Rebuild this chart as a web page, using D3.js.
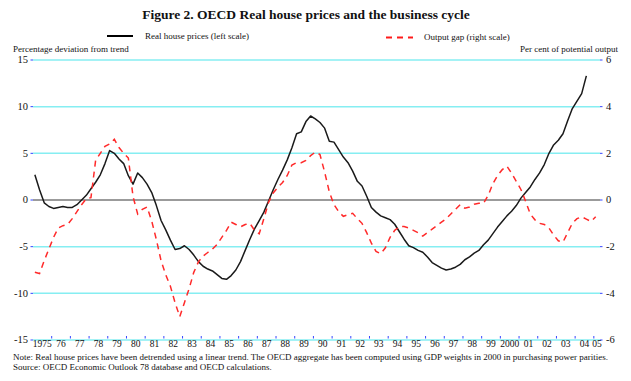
<!DOCTYPE html>
<html>
<head>
<meta charset="utf-8">
<script src="https://cdn.jsdelivr.net/npm/d3@7"></script>
<style>
  html, body { margin: 0; padding: 0; background: #fff; }
  svg { display: block; font-family: "Liberation Serif", "Times New Roman", serif; }
</style>
</head>
<body>
<svg id="chart" width="631" height="381"></svg>
<script>
// ---- data ----
const startYear = 1975.1;   // first quarterly observation
const step = 0.25;          // quarterly
const housePrices = [
  2.7, 1.1, -0.3, -0.7, -0.9, -0.8, -0.7, -0.8, -0.8, -0.5, 0.0, 0.5,
  1.2, 1.9, 2.7, 3.9, 5.3, 5.0, 4.4, 3.9, 2.6, 1.7, 2.9, 2.4,
  1.7, 0.8, -0.6, -2.2, -3.2, -4.3, -5.3, -5.2, -4.9, -5.3, -5.9, -6.6,
  -7.1, -7.4, -7.6, -8.0, -8.4, -8.5, -8.1, -7.5, -6.6, -5.4, -4.2, -3.1,
  -2.2, -1.3, -0.1, 1.1, 2.2, 3.2, 4.3, 5.6, 7.1, 7.3, 8.4, 9.0,
  8.7, 8.3, 7.7, 6.3, 6.2, 5.4, 4.6, 4.0, 3.1, 2.0, 1.5, 0.4,
  -0.8, -1.3, -1.7, -1.9, -2.1, -2.6, -3.4, -4.2, -4.9, -5.1, -5.4, -5.6,
  -6.1, -6.7, -7.0, -7.3, -7.5, -7.4, -7.2, -6.9, -6.4, -6.1, -5.7, -5.4,
  -4.8, -4.3, -3.6, -2.9, -2.3, -1.7, -1.2, -0.6, 0.2, 0.8, 1.4, 2.2,
  2.9, 3.8, 5.0, 5.9, 6.4, 7.1, 8.5, 9.8, 10.6, 11.4, 13.3
];
const outputGap = [
  -3.1, -3.15, -2.6, -2.1, -1.6, -1.2, -1.1, -1.05, -0.8, -0.5, -0.2, 0.05,
  0.1, 1.7, 2.0, 2.3, 2.4, 2.6, 2.25, 2.0, 1.8, 0.15, -0.6, -0.4,
  -0.3, -0.9, -1.7, -2.6, -3.2, -3.7, -4.4, -5.0, -4.4, -3.8, -3.1, -2.65,
  -2.4, -2.25, -2.1, -1.9, -1.6, -1.3, -0.95, -1.05, -1.15, -1.05, -1.0, -1.3,
  -1.45, -0.8, -0.1, 0.3, 0.55, 0.75, 1.05, 1.5, 1.6, 1.6, 1.7, 1.9,
  2.05, 1.95, 1.2, 0.35, -0.2, -0.5, -0.7, -0.63, -0.57, -0.8, -1.0, -1.4,
  -1.85, -2.2, -2.3, -2.05, -1.6, -1.3, -1.14, -1.14, -1.2, -1.3, -1.4, -1.55,
  -1.4, -1.25, -1.1, -0.95, -0.8, -0.6, -0.4, -0.2, -0.35, -0.3, -0.18, -0.14,
  -0.14, 0.2, 0.7, 1.05, 1.3, 1.45, 1.15, 0.8, 0.45, -0.05, -0.6, -0.85,
  -1.0, -1.05, -1.2, -1.5, -1.75, -1.8, -1.4, -1.0, -0.8, -0.72, -0.82, -0.92,
  -0.72
];
const years = d3.range(1975, 2006);
const yearLabels = years.map(y => (y === 1975 || y === 2000) ? String(y) : String(y).slice(2));
const leftTicks = [-15, -10, -5, 0, 5, 10, 15];
const rightTicks = [-6, -4, -2, 0, 2, 4, 6];
const xEnd = 2005.33;

const title = "Figure 2. OECD Real house prices and the business cycle";
const seriesNames = ["Real house prices (left scale)", "Output gap (right scale)"];
const leftAxisTitle = "Percentage deviation from trend";
const rightAxisTitle = "Per cent of potential output";
const notes = [
  "Note: Real house prices have been detrended using a linear trend. The OECD aggregate has been computed using GDP weights in 2000 in purchasing power parities.",
  "Source: OECD Economic Outlook 78 database and OECD calculations."
];

// ---- layout ----
const svg = d3.select("#chart");
const L = 33, R = 600, T = 60, B = 340;
const x = d3.scaleLinear().domain([1975, xEnd]).range([L, R]);
const yL = d3.scaleLinear().domain([-15, 15]).range([B, T]);
const yR = d3.scaleLinear().domain([-6, 6]).range([B, T]);

// title
svg.append("text").attr("x", 306).attr("y", 19).attr("text-anchor", "middle")
  .attr("font-size", 13.5).attr("font-weight", "bold").attr("fill", "#111").text(title);

// legend
svg.append("line").attr("x1", 107).attr("x2", 133).attr("y1", 36).attr("y2", 36)
  .attr("stroke", "#000").attr("stroke-width", 2);
svg.append("text").attr("x", 145).attr("y", 39).attr("font-size", 9).attr("fill", "#111").text(seriesNames[0]);
svg.append("line").attr("x1", 386).attr("x2", 413).attr("y1", 37.5).attr("y2", 37.5)
  .attr("stroke", "#ff1a1a").attr("stroke-width", 2).attr("stroke-dasharray", "6,5");
svg.append("text").attr("x", 424).attr("y", 40).attr("font-size", 9).attr("fill", "#111").text(seriesNames[1]);

// axis titles
svg.append("text").attr("x", 13).attr("y", 52).attr("font-size", 9).attr("fill", "#111").text(leftAxisTitle);
svg.append("text").attr("x", 618).attr("y", 52).attr("text-anchor", "end").attr("font-size", 9).attr("fill", "#111").text(rightAxisTitle);

// gridlines
svg.append("g").selectAll("line").data(leftTicks).join("line")
  .attr("x1", L).attr("x2", R)
  .attr("y1", d => yL(d)).attr("y2", d => yL(d))
  .attr("stroke", d => d === 0 ? "#7a7a7a" : "#86eef2")
  .attr("stroke-width", 1.5);

// left axis ticks and labels
const gl = svg.append("g");
gl.selectAll("line").data(leftTicks).join("line")
  .attr("x1", L - 2.5).attr("x2", L).attr("y1", d => yL(d)).attr("y2", d => yL(d))
  .attr("stroke", "#3344ff").attr("stroke-width", 1);
gl.selectAll("text").data(leftTicks).join("text")
  .attr("x", 28).attr("y", d => yL(d)).attr("dy", "0.33em").attr("text-anchor", "end")
  .attr("font-size", 10.5).attr("fill", "#111").text(d => d);

// right axis ticks and labels
const gr = svg.append("g");
gr.selectAll("line").data(rightTicks).join("line")
  .attr("x1", R).attr("x2", R + 2.5).attr("y1", d => yR(d)).attr("y2", d => yR(d))
  .attr("stroke", "#3344ff").attr("stroke-width", 1);
gr.selectAll("text").data(rightTicks).join("text")
  .attr("x", 606).attr("y", d => yR(d)).attr("dy", "0.33em").attr("text-anchor", "start")
  .attr("font-size", 10.5).attr("fill", "#111").text(d => d);

// x ticks (year boundaries) and labels
const gx = svg.append("g");
gx.selectAll("line").data(years.slice(1)).join("line")
  .attr("x1", d => x(d)).attr("x2", d => x(d)).attr("y1", B - 4).attr("y2", B - 1.5)
  .attr("stroke", "#3344ff").attr("stroke-width", 1);
gx.selectAll("text").data(years).join("text")
  .attr("x", d => x((d + Math.min(d + 1, xEnd)) / 2))
  .attr("y", B + 6.5).attr("text-anchor", "middle")
  .attr("font-size", 9.5).attr("fill", "#111")
  .text((d, i) => yearLabels[i]);

// series
const t = i => startYear + i * step;
const lineL = d3.line().x((d, i) => x(t(i))).y(d => yL(d));
const lineR = d3.line().x((d, i) => x(t(i))).y(d => yR(d));
svg.append("path").datum(housePrices).attr("d", lineL)
  .attr("fill", "none").attr("stroke", "#1a1a1a").attr("stroke-width", 1.5)
  .attr("stroke-linejoin", "round");
svg.append("path").datum(outputGap).attr("d", lineR)
  .attr("fill", "none").attr("stroke", "#ff2a2a").attr("stroke-width", 1.5)
  .attr("stroke-dasharray", "6,5");

// notes
svg.selectAll("text.note").data(notes).join("text").attr("class", "note")
  .attr("x", 13).attr("y", (d, i) => 360 + i * 10)
  .attr("font-size", 9).attr("fill", "#111").text(d => d);
</script>
</body>
</html>
